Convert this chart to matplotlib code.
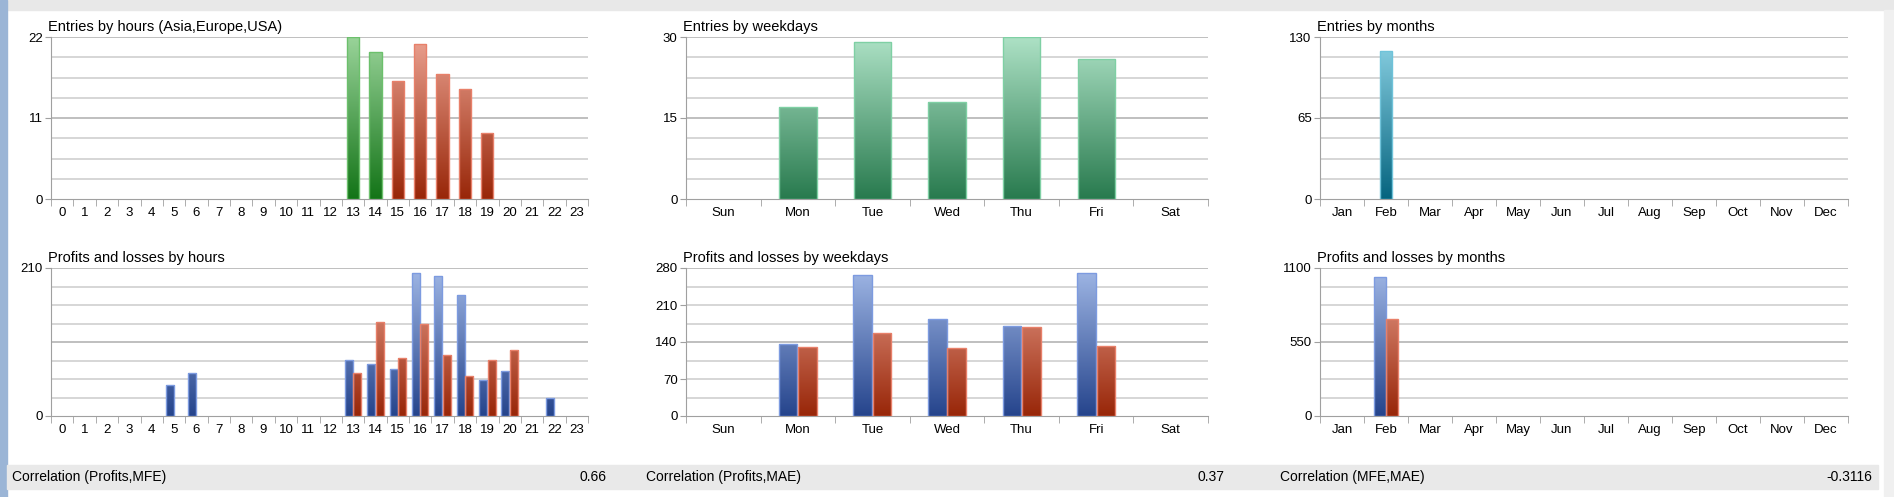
import numpy as np
import matplotlib
matplotlib.use('Agg')
import matplotlib.pyplot as plt
from matplotlib.colors import LinearSegmentedColormap
from matplotlib.patches import Rectangle

plt.rcParams['font.family'] = ['Liberation Sans', 'DejaVu Sans']
W, H = 1894, 497

hours = [str(i) for i in range(24)]
days = ['Sun', 'Mon', 'Tue', 'Wed', 'Thu', 'Fri', 'Sat']
months = ['Jan', 'Feb', 'Mar', 'Apr', 'May', 'Jun', 'Jul', 'Aug', 'Sep', 'Oct', 'Nov', 'Dec']

entries_hours = {13: 22, 14: 20, 15: 16, 16: 21, 17: 17, 18: 15, 19: 9}
green_hours = [13, 14]
profit_hours = {5: 44, 6: 61, 13: 79, 14: 74, 15: 66, 16: 203, 17: 199, 18: 172, 19: 51, 20: 64, 22: 25}
loss_hours = {13: 61, 14: 134, 15: 82, 16: 130, 17: 86, 18: 57, 19: 79, 20: 94}
entries_days = [0, 17, 29, 18, 30, 26, 0]
profit_days = [0, 137, 267, 184, 170, 271, 0]
loss_days = [0, 131, 157, 128, 168, 133, 0]
entries_months = [0, 119] + [0] * 10
profit_months = [0, 1032] + [0] * 10
loss_months = [0, 718] + [0] * 10

grads = {
    'blue': ('#a1b8e6', '#25448c', '#7d9be0'),
    'red': ('#eba291', '#982608', '#e8806a'),
    'green': ('#9ad49a', '#137417', '#6cc06c'),
    'sea': ('#aee2c6', '#287a4e', '#7fd0a4'),
    'teal': ('#8dd3e5', '#05647f', '#6fc3da'),
}


def gbar(ax, x, h, w, name, ymax):
    if h <= 0:
        return
    top, bot, edge = grads[name]
    cmap = LinearSegmentedColormap.from_list(name, [bot, top])
    grad = np.linspace(0, 1, 256).reshape(-1, 1)
    im = ax.imshow(grad, cmap=cmap, origin='lower', aspect='auto',
                   extent=(x - w / 2, x + w / 2, 0, ymax), zorder=3)
    r = Rectangle((x - w / 2, 0), w, h, facecolor='none', edgecolor=edge, lw=1, zorder=4)
    ax.add_patch(r)
    im.set_clip_path(r)


def setup(ax, title, labels, ymax, nlab=2):
    n = len(labels)
    ax.set_xlim(-0.5, n - 0.5)
    ax.set_ylim(0, ymax)
    for k, y in enumerate(np.linspace(0, ymax, 9)[1:], start=1):
        ax.axhline(y, color='#b4b4b4' if k % 4 == 0 else '#cfcfcf', lw=1.2, zorder=1)
    yt = np.linspace(0, ymax, nlab + 1)
    ax.set_yticks(yt)
    ax.set_yticklabels([f'{v:g}' for v in yt])
    ax.set_xticks(range(n))
    ax.set_xticklabels(labels)
    ax.set_xticks(np.arange(-0.5, n, 1), minor=True)
    ax.tick_params(axis='x', which='major', length=0, labelsize=9.5, pad=6)
    ax.tick_params(axis='x', which='minor', length=5, color='#a0a0a0')
    ax.tick_params(axis='y', length=4, color='#a0a0a0', labelsize=9.5, pad=2)
    for s in ['top', 'right']:
        ax.spines[s].set_visible(False)
    for s in ['left', 'bottom']:
        ax.spines[s].set_color('#a0a0a0')
    ax.set_title(title, loc='left', fontsize=10.5, pad=4, x=-0.005)


fig = plt.figure(figsize=(W / 100, H / 100), dpi=100)
fig.patches.append(Rectangle((0, 1 - 10 / H), 1, 10 / H, transform=fig.transFigure, color='#e8e8e8'))
fig.patches.append(Rectangle((0, 0), 7 / W, 1, transform=fig.transFigure, color='#9bb5d6'))
fig.patches.append(Rectangle((1884 / W, 0), (W - 1884) / W, 1 - 10 / H, transform=fig.transFigure, color='#f0f0f0'))
fig.patches.append(Rectangle((7 / W, 8 / H), 1871 / W, 24 / H, transform=fig.transFigure, color='#e9e9e9'))


def mk(x0, x1, y0, y1):
    return fig.add_axes([x0 / W, 1 - y1 / H, (x1 - x0) / W, (y1 - y0) / H])


cols = [(51, 588), (686, 1208), (1320, 1848)]
rows = [(37, 199), (268, 416)]

ax = mk(*cols[0], *rows[0])
setup(ax, 'Entries by hours (Asia,Europe,USA)', hours, 22)
for hr, v in entries_hours.items():
    gbar(ax, hr, v, 0.55, 'green' if hr in green_hours else 'red', 22)

ax = mk(*cols[0], *rows[1])
setup(ax, 'Profits and losses by hours', hours, 210, nlab=1)
for hr, v in profit_hours.items():
    gbar(ax, hr - 0.19, v, 0.36, 'blue', 210)
for hr, v in loss_hours.items():
    gbar(ax, hr + 0.19, v, 0.36, 'red', 210)

ax = mk(*cols[1], *rows[0])
setup(ax, 'Entries by weekdays', days, 30)
for i, v in enumerate(entries_days):
    gbar(ax, i, v, 0.5, 'sea', 30)

ax = mk(*cols[1], *rows[1])
setup(ax, 'Profits and losses by weekdays', days, 280, nlab=4)
for i in range(7):
    gbar(ax, i - 0.13, profit_days[i], 0.25, 'blue', 280)
    gbar(ax, i + 0.13, loss_days[i], 0.25, 'red', 280)

ax = mk(*cols[2], *rows[0])
setup(ax, 'Entries by months', months, 130)
for i, v in enumerate(entries_months):
    gbar(ax, i, v, 0.27, 'teal', 130)

ax = mk(*cols[2], *rows[1])
setup(ax, 'Profits and losses by months', months, 1100)
for i in range(12):
    gbar(ax, i - 0.14, profit_months[i], 0.27, 'blue', 1100)
    gbar(ax, i + 0.14, loss_months[i], 0.27, 'red', 1100)

corr = [('Correlation (Profits,MFE)', '0.66', 12, 606),
        ('Correlation (Profits,MAE)', '0.37', 646, 1224),
        ('Correlation (MFE,MAE)', '-0.3116', 1280, 1872)]
for name, val, xl, xr in corr:
    fig.text(xl / W, 1 - 477 / H, name, fontsize=10, va='center')
    fig.text(xr / W, 1 - 477 / H, val, fontsize=10, va='center', ha='right')

fig.savefig('out.png', dpi=100)
